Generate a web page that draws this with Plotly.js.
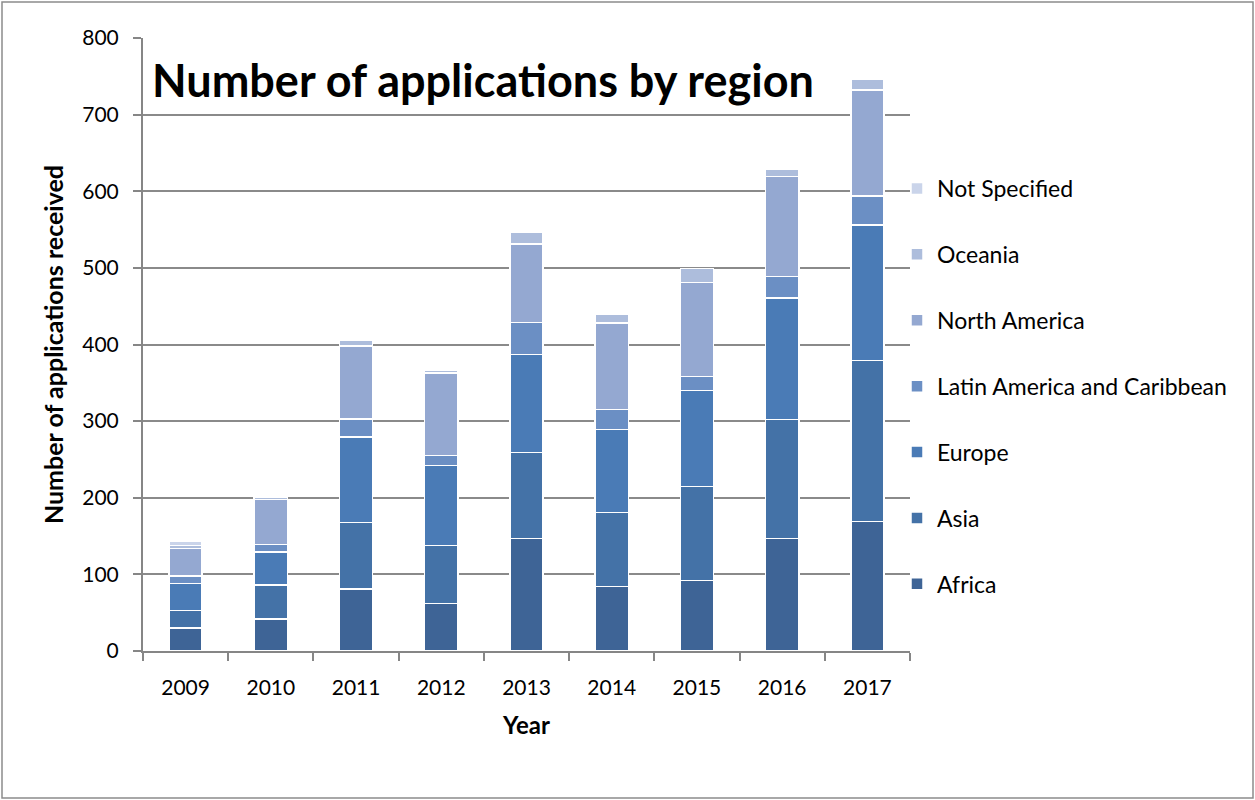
<!DOCTYPE html>
<html>
<head>
<meta charset="utf-8">
<script src="https://cdn.plot.ly/plotly-3.0.1.min.js"></script>
<style>
  html, body { margin: 0; padding: 0; background: #ffffff; }
  #chart { width: 1255px; height: 800px; }
</style>
</head>
<body>
<div id="chart"></div>
<script>
const years = ['2009', '2010', '2011', '2012', '2013', '2014', '2015', '2016', '2017'];
const africa = [30, 42, 81, 62, 147, 84, 92, 147, 169];
const asia = [23, 44, 87, 76, 112, 97, 123, 155, 210];
const europe = [35, 43, 111, 104, 128, 108, 125, 159, 177];
const latinAmerica = [10, 10, 24, 13, 42, 26, 18, 28, 38];
const northAmerica = [36, 59, 95, 108, 102, 113, 123, 130, 138];
const oceania = [4, 3, 8, 3, 15, 11, 18, 10, 14];
const notSpecified = [5, 1, 0, 1, 0, 0, 0, 0, 0];

const seriesNames = ['Africa', 'Asia', 'Europe', 'Latin America and Caribbean', 'North America', 'Oceania', 'Not Specified'];
const seriesValues = [africa, asia, europe, latinAmerica, northAmerica, oceania, notSpecified];
const seriesColors = ['#3e6496', '#4472a7', '#4a7bb6', '#6b8fc4', '#94a8d1', '#adbddc', '#cad4ea'];

const FONT = 'Lato, "Liberation Sans", sans-serif';

const traces = seriesNames.map((name, i) => ({
  type: 'bar',
  name: name,
  x: years,
  y: seriesValues[i],
  legendgroup: name,
  legendrank: 1000 - i,
  marker: { color: seriesColors[i], line: { color: '#ffffff', width: 1.5 } },
  hoverinfo: 'x+y+name'
}));

const L = 143, R = 910, T = 38, B = 651;
const W = R - L, H = B - T;
const px = v => (v - L) / W;
const py = v => (B - v) / H;

const layout = {
  width: 1255,
  height: 800,
  margin: { l: L, r: 1255 - R, t: T, b: 800 - B, pad: 0 },
  paper_bgcolor: '#ffffff',
  plot_bgcolor: '#ffffff',
  barmode: 'stack',
  bargap: 0.61,
  font: { family: FONT, size: 20, color: '#000000' },
  showlegend: true,
  legend: {
    x: px(897), xanchor: 'left',
    y: py(167), yanchor: 'top',
    traceorder: 'grouped',
    tracegroupgap: 33,
    font: { family: FONT, size: 23, color: '#000000' },
    bgcolor: 'rgba(0,0,0,0)'
  },
  xaxis: {
    type: 'category',
    showline: true,
    linecolor: '#868686',
    linewidth: 2,
    ticks: 'outside',
    tickson: 'boundaries',
    ticklen: 8,
    tickwidth: 2,
    tickcolor: '#868686',
    showgrid: false,
    tickfont: { family: FONT, size: 21, color: '#000000' },
    ticklabelstandoff: 17,
    title: { text: '<b>Year</b>', font: { family: FONT, size: 24, color: '#000000' }, standoff: 19 }
  },
  yaxis: {
    range: [0, 800],
    dtick: 100,
    showline: true,
    linecolor: '#868686',
    linewidth: 2,
    ticks: 'outside',
    ticklen: 8,
    tickwidth: 2,
    tickcolor: '#868686',
    showgrid: true,
    gridcolor: '#8a8a8a',
    gridwidth: 2,
    zeroline: false,
    tickfont: { family: FONT, size: 21, color: '#000000' },
    ticklabelstandoff: 10,
    title: { text: '<b>Number of applications received</b>', font: { family: FONT, size: 25, color: '#000000' }, standoff: 12 }
  },
  annotations: [{
    xref: 'paper', yref: 'paper',
    x: px(150), y: py(80),
    xanchor: 'left', yanchor: 'middle',
    showarrow: false,
    text: '<b>Number of applications by region</b>',
    font: { family: FONT, size: 45, color: '#000000' }
  }],
  shapes: [{
    type: 'rect', xref: 'paper', yref: 'paper',
    x0: px(2), x1: px(1253), y0: py(798), y1: py(2),
    line: { color: '#8c8c8c', width: 1.5 },
    fillcolor: 'rgba(0,0,0,0)',
    layer: 'below'
  }]
};

Plotly.newPlot('chart', traces, layout, { displayModeBar: false, staticPlot: true });
</script>
</body>
</html>
